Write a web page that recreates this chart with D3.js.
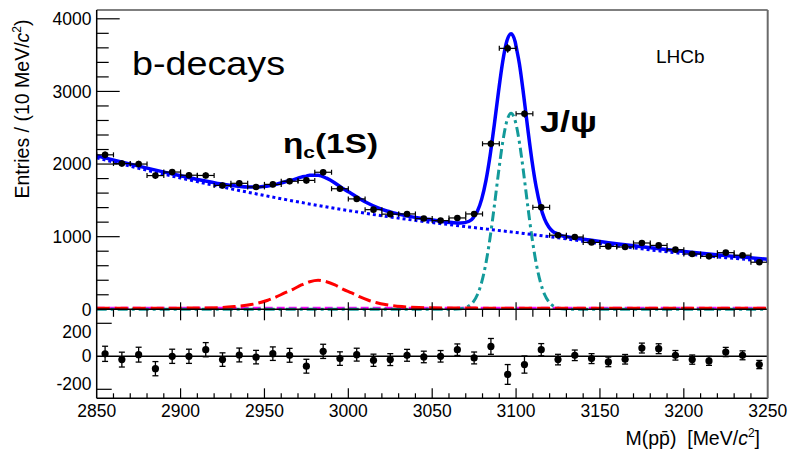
<!DOCTYPE html>
<html><head><meta charset="utf-8">
<script src="https://cdn.jsdelivr.net/npm/d3@7"></script>
<style>
body{margin:0;background:#fff}
svg{display:block}
text{font-family:"Liberation Sans",Arial,Helvetica,sans-serif;fill:#000}
</style>
</head><body>
<svg id="chart" width="788" height="451"></svg>
<script>
// ---------- data ----------
const binCenters = [2855,2865,2875,2885,2895,2905,2915,2925,2935,2945,2955,2965,2975,2985,2995,3005,3015,3025,3035,3045,3055,3065,3075,3085,3095,3105,3115,3125,3135,3145,3155,3165,3175,3185,3195,3205,3215,3225,3235,3245];
const counts = [2127,2007,2000,1841,1890,1846,1843,1705,1735,1685,1720,1763,1775,1887,1660,1520,1372,1310,1313,1250,1221,1258,1313,2279,3593,2692,1404,1020,996,921,866,858,913,880,821,761,729,780,745,648];
const countErrors = [46,45,45,43,43,43,43,41,42,41,41,42,42,43,41,39,37,36,36,35,35,35,36,48,60,52,37,32,32,30,29,29,30,30,29,28,27,28,27,25];
const residuals = [15,-20,10,-75,0,0,40,-20,8,-5,16,6,-60,30,-14,10,-24,-20,6,-4,0,40,-10,60,-110,-50,40,-20,6,-14,-34,-18,50,46,6,-20,-28,26,6,-50];

const bkgMass = [2850,2875,2900,2925,2950,2975,3000,3025,3050,3075,3100,3125,3150,3175,3200,3225,3250];
const bkgValues = [2085,1942,1808,1683,1567,1458,1360,1271,1195,1125,1057,985,905,832,766,711,661];

const etacMass = [2850,2900,2922,2932,2942,2947,2952,2957,2962,2967,2972,2977,2982,2987,2992,2997,3002,3007,3012,3017,3022,3032,3042,3062,3100,3250];
const etacValues = [14,16,22,37,65,90,125,170,225,275,335,380,400,380,335,275,225,170,125,90,65,37,25,18,15,14];

const jpsiMass = [2850,3050,3062,3067,3072,3074.5,3077,3079.5,3082,3084.5,3087,3089.5,3092,3094.5,3097,3099.5,3102,3104.5,3107,3109.5,3112,3114.5,3117,3119.5,3122,3127,3132,3144,3250];
const jpsiValues = [0,0,1,8,48,103,204,374,632,985,1416,1878,2298,2593,2700,2593,2298,1878,1416,985,632,374,204,103,48,8,1,0,0];

const otherMass = [2850,3250];
const otherValues = [14,14];

const xTickLabels = [2850,2900,2950,3000,3050,3100,3150,3200,3250];
const yTopTickLabels = [0,1000,2000,3000,4000];
const yResTickLabels = [-200,0,200];

// ---------- layout ----------
const svg = d3.select("#chart");
const L = 96.7, R = 767.7, T = 10, MID = 309.3, B = 398.3;
const x = d3.scaleLinear().domain([2850,3250]).range([L,R]);
const yTop = d3.scaleLinear().domain([0,4000]).range([MID,18.8]);
const yRes = d3.scaleLinear().domain([-200,200]).range([389.3,323.3]);

const defs = svg.append("defs");
defs.append("clipPath").attr("id","clipTop").append("rect")
  .attr("x",L).attr("y",T).attr("width",R-L).attr("height",MID-T+2);

// ---------- curves ----------
const bkgAt = d3.scaleLinear().domain(bkgMass).range(bkgValues).clamp(true);
const etacAt = d3.scaleLinear().domain(etacMass).range(etacValues).clamp(true);
const jpsiAt = d3.scaleLinear().domain(jpsiMass).range(jpsiValues).clamp(true);
const otherAt = d3.scaleLinear().domain(otherMass).range(otherValues).clamp(true);
const curveMass = Array.from(new Set([...bkgMass,...etacMass,...jpsiMass])).sort((a,b)=>a-b);
const totalPts = curveMass.map(m => [m, bkgAt(m)+etacAt(m)+jpsiAt(m)+otherAt(m)]);

const line = d3.line().x(d=>x(d[0])).y(d=>yTop(d[1])).curve(d3.curveMonotoneX);
const gCurves = svg.append("g").attr("clip-path","url(#clipTop)");

gCurves.append("path").datum(otherMass.map((m,i)=>[m,otherValues[i]]))
  .attr("d",line).attr("fill","none").attr("stroke","#ff00ff").attr("stroke-width",3).attr("stroke-dasharray","8,4");
gCurves.append("path").datum(jpsiMass.map((m,i)=>[m,jpsiValues[i]]))
  .attr("d",line).attr("fill","none").attr("stroke","#139a9a").attr("stroke-width",3).attr("stroke-dasharray","10,4,3,4");
gCurves.append("path").datum(etacMass.map((m,i)=>[m,etacValues[i]]))
  .attr("d",line).attr("fill","none").attr("stroke","#ff0000").attr("stroke-width",3).attr("stroke-dasharray","13,5");
gCurves.append("path").datum(bkgMass.map((m,i)=>[m,bkgValues[i]]))
  .attr("d",line).attr("fill","none").attr("stroke","#0000ff").attr("stroke-width",3).attr("stroke-dasharray","3,3");
gCurves.append("path").datum(totalPts)
  .attr("d",line).attr("fill","none").attr("stroke","#0000ff").attr("stroke-width",3.5);

// ---------- data points (top) ----------
const gData = svg.append("g").attr("stroke","#000").attr("stroke-width",1.2);
binCenters.forEach((c,i)=>{
  const v = counts[i], e = countErrors[i];
  const cy = yTop(v);
  gData.append("line").attr("x1",x(c-5)).attr("x2",x(c+5)).attr("y1",cy).attr("y2",cy);
  gData.append("line").attr("x1",x(c-5)).attr("x2",x(c-5)).attr("y1",cy-2.5).attr("y2",cy+2.5);
  gData.append("line").attr("x1",x(c+5)).attr("x2",x(c+5)).attr("y1",cy-2.5).attr("y2",cy+2.5);
  gData.append("line").attr("x1",x(c)).attr("x2",x(c)).attr("y1",yTop(v-e)).attr("y2",yTop(v+e));
  gData.append("circle").attr("cx",x(c)).attr("cy",cy).attr("r",3.3).attr("fill","#000").attr("stroke","none");
});

// ---------- residual panel ----------
svg.append("line").attr("x1",L).attr("x2",R).attr("y1",yRes(0)).attr("y2",yRes(0))
  .attr("stroke","#000").attr("stroke-width",1.5);
const gRes = svg.append("g").attr("stroke","#000").attr("stroke-width",1.3);
binCenters.forEach((c,i)=>{
  const r = residuals[i], e = countErrors[i];
  const cx = x(c);
  gRes.append("line").attr("x1",cx).attr("x2",cx).attr("y1",yRes(r-e)).attr("y2",yRes(r+e));
  gRes.append("line").attr("x1",cx-3).attr("x2",cx+3).attr("y1",yRes(r-e)).attr("y2",yRes(r-e));
  gRes.append("line").attr("x1",cx-3).attr("x2",cx+3).attr("y1",yRes(r+e)).attr("y2",yRes(r+e));
  gRes.append("circle").attr("cx",cx).attr("cy",yRes(r)).attr("r",3.6).attr("fill","#000").attr("stroke","none");
});

// ---------- frames & axes ----------
const gAx = svg.append("g").attr("stroke","#000").attr("stroke-width",1.2).attr("fill","none");
gAx.append("line").attr("x1",L).attr("x2",R).attr("y1",T).attr("y2",T);
gAx.append("line").attr("x1",L).attr("x2",L).attr("y1",T).attr("y2",B).attr("stroke-width",1.5);
gAx.append("line").attr("x1",L).attr("x2",R).attr("y1",MID).attr("y2",MID).attr("stroke-width",1.5);
gAx.append("line").attr("x1",L).attr("x2",R).attr("y1",B).attr("y2",B).attr("stroke-width",1.5);
svg.append("line").attr("x1",R).attr("x2",R).attr("y1",T).attr("y2",B).attr("stroke","#6a6a6a").attr("stroke-width",2);

const minorX = d3.range(2850,3251,10);
minorX.forEach(m=>{
  const major = (m % 50 === 0);
  const px = x(m);
  if (m === 2850 || m === 3250) return;
  if (major) {
    gAx.append("line").attr("x1",px).attr("x2",px).attr("y1",MID-7).attr("y2",MID+11);
    gAx.append("line").attr("x1",px).attr("x2",px).attr("y1",B-10).attr("y2",B);
  } else {
    gAx.append("line").attr("x1",px).attr("x2",px).attr("y1",MID).attr("y2",MID+7.5);
    gAx.append("line").attr("x1",px).attr("x2",px).attr("y1",B-5).attr("y2",B);
  }
});
d3.range(0,4001,200).forEach(v=>{
  const major = (v % 1000 === 0);
  gAx.append("line").attr("x1",L).attr("x2",L+(major?23:12)).attr("y1",yTop(v)).attr("y2",yTop(v));
});
[-200,200].forEach(v=>{
  gAx.append("line").attr("x1",L).attr("x2",L+15).attr("y1",yRes(v)).attr("y2",yRes(v));
});

const fs = 17.5;
xTickLabels.forEach(m=>{
  svg.append("text").attr("x",x(m)).attr("y",416.5).attr("text-anchor","middle")
    .attr("font-size",fs).text(m);
});
yTopTickLabels.forEach(v=>{
  svg.append("text").attr("x",91.5).attr("y",yTop(v)).attr("dy","0.36em").attr("text-anchor","end")
    .attr("font-size",fs).text(v);
});
const resLabelY = {"200":331.5,"0":356,"-200":384};
yResTickLabels.forEach(v=>{
  svg.append("text").attr("x",91.5).attr("y",resLabelY[String(v)]).attr("dy","0.36em").attr("text-anchor","end")
    .attr("font-size",fs).text(v);
});

// axis titles
const yt = svg.append("text").attr("transform","translate(29,109) rotate(-90)")
  .attr("text-anchor","middle").attr("font-size",19.5).attr("fill","#222");
yt.append("tspan").text("Entries / (10 MeV/");
yt.append("tspan").attr("font-style","italic").text("c");
yt.append("tspan").attr("font-size",12).attr("dy",-8).text("2");
yt.append("tspan").attr("dy",8).text(")");

const xt = svg.append("text").attr("x",760).attr("y",445).attr("text-anchor","end")
  .attr("font-size",19.5).attr("fill","#222");
xt.append("tspan").text("M(pp\u0304)\u00a0\u00a0[MeV/");
xt.append("tspan").attr("font-style","italic").text("c");
xt.append("tspan").attr("font-size",12).attr("dy",-8).text("2");
xt.append("tspan").attr("dy",8).text("]");

// annotations
svg.append("text").attr("x",132).attr("y",75).attr("font-family","DejaVu Sans")
  .attr("font-size",34).attr("textLength",153).attr("lengthAdjust","spacingAndGlyphs").text("b-decays");

const et = svg.append("text").attr("x",283).attr("y",153).attr("font-family","DejaVu Sans")
  .attr("font-weight","bold").attr("font-size",27).attr("textLength",95).attr("lengthAdjust","spacingAndGlyphs");
et.append("tspan").text("\u03b7");
et.append("tspan").attr("font-size",17).attr("dy",5).text("c");
et.append("tspan").attr("dy",-5).text("(1S)");

svg.append("text").attr("x",540).attr("y",132).attr("font-family","DejaVu Sans")
  .attr("font-weight","bold").attr("font-size",30).attr("textLength",57).attr("lengthAdjust","spacingAndGlyphs").text("J/\u03c8");

svg.append("text").attr("x",656).attr("y",63).attr("font-size",19).attr("fill","#333").text("LHCb");
</script>
</body></html>
